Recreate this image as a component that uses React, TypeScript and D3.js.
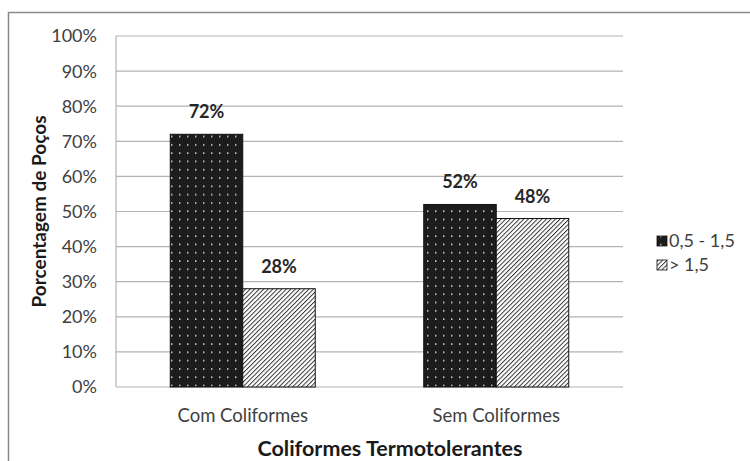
import React from "react";
import * as d3 from "d3";

const categories = ["Com Coliformes", "Sem Coliformes"];
const seriesNames = ["0,5 - 1,5", "> 1,5"];
const lowRange = [72, 52];
const highRange = [28, 48];
const yTicks = [0, 10, 20, 30, 40, 50, 60, 70, 80, 90, 100];

const W = 750;
const H = 461;
const FONT = "Lato, 'Open Sans', sans-serif";

export default function App() {
  const margin = { left: 116, right: 127, top: 36, bottom: 74 };
  const x0 = d3
    .scaleBand<string>()
    .domain(categories)
    .range([margin.left, W - margin.right])
    .paddingInner(0.428)
    .paddingOuter(0.214);
  const x1 = d3.scaleBand<number>().domain([0, 1]).range([0, x0.bandwidth()]);
  const y = d3.scaleLinear().domain([0, 100]).range([H - margin.bottom, margin.top]);

  const series = [lowRange, highRange];
  const fills = ["url(#dots)", "url(#hatch)"];

  return (
    <svg
      width={W}
      height={H}
      style={{ position: "absolute", left: 0, top: 0, background: "#fff" }}
    >
      <defs>
        <pattern id="dots" patternUnits="userSpaceOnUse" width={8} height={8.3}>
          <rect width={8} height={8.3} fill="#1c1c1c" />
          <rect x={3} y={3} width={1.5} height={1.5} fill="#d8d8d8" />
        </pattern>
        <pattern
          id="hatch"
          patternUnits="userSpaceOnUse"
          width={3.2}
          height={3.2}
          patternTransform="rotate(45)"
        >
          <rect width={3.2} height={3.2} fill="#fff" />
          <line x1={0.5} y1={0} x2={0.5} y2={3.2} stroke="#222" strokeWidth={0.9} />
        </pattern>
      </defs>

      {/* outer frame */}
      <rect x={8.5} y={12.5} width={W} height={H} fill="none" stroke="#8a8a8a" strokeWidth={1.5} />

      {/* gridlines */}
      {yTicks.map((t) => (
        <line
          key={t}
          x1={margin.left}
          x2={W - margin.right}
          y1={y(t)}
          y2={y(t)}
          stroke="#b3b3b3"
          strokeWidth={1.2}
        />
      ))}
      <line
        x1={margin.left}
        x2={margin.left}
        y1={y(100)}
        y2={y(0)}
        stroke="#b3b3b3"
        strokeWidth={1.2}
      />

      {/* y tick labels */}
      {yTicks.map((t) => (
        <text
          key={t}
          x={97}
          y={y(t)}
          dy="0.36em"
          textAnchor="end"
          fontFamily={FONT}
          fontSize={18}
          fill="#404040"
        >
          {t}%
        </text>
      ))}

      {/* bars */}
      {categories.map((c, ci) =>
        series.map((s, si) => {
          const bx = (x0(c) as number) + (x1(si) as number);
          const by = y(s[ci]);
          return (
            <g key={`${c}-${si}`}>
              <rect
                x={bx}
                y={by}
                width={x1.bandwidth()}
                height={y(0) - by}
                fill={fills[si]}
                stroke="#111"
                strokeWidth={1}
              />
              <text
                x={bx + x1.bandwidth() / 2}
                y={by - 16}
                textAnchor="middle"
                fontFamily={FONT}
                fontSize={18}
                fontWeight="bold"
                fill="#262626"
              >
                {s[ci]}%
              </text>
            </g>
          );
        })
      )}

      {/* category labels */}
      {categories.map((c) => (
        <text
          key={c}
          x={(x0(c) as number) + x0.bandwidth() / 2}
          y={422}
          textAnchor="middle"
          fontFamily={FONT}
          fontSize={18.5}
          fill="#404040"
        >
          {c}
        </text>
      ))}

      {/* axis titles */}
      <text
        x={390}
        y={456}
        textAnchor="middle"
        fontFamily={FONT}
        fontSize={21.5}
        fontWeight="bold"
        fill="#1a1a1a"
      >
        Coliformes Termotolerantes
      </text>
      <text
        transform={`translate(46, ${y(50)}) rotate(-90)`}
        textAnchor="middle"
        fontFamily={FONT}
        fontSize={19}
        fontWeight="bold"
        fill="#1a1a1a"
      >
        Porcentagem de Poços
      </text>

      {/* legend */}
      {seriesNames.map((n, i) => (
        <g key={n} transform={`translate(657, ${241 + i * 24})`}>
          <rect x={0} y={-5} width={10} height={10} fill={fills[i]} stroke="#111" strokeWidth={0.8} />
          <text x={12} y={0} dy="0.36em" fontFamily={FONT} fontSize={18} fill="#404040">
            {n}
          </text>
        </g>
      ))}
    </svg>
  );
}
